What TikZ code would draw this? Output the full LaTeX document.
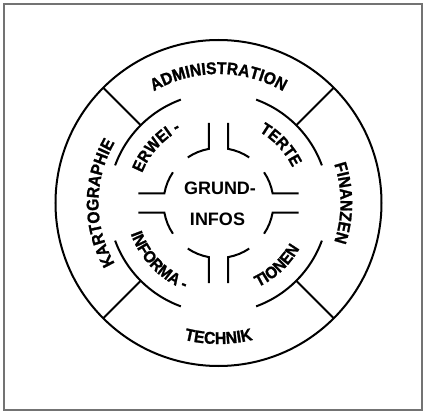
\documentclass[tikz,border=0pt]{standalone}
\usepackage{fontspec}
\setmainfont{Liberation Sans}
\newfontfamily\labfam{Liberation Sans Bold}[FakeStretch=0.92, FakeBold=1.2]
\usetikzlibrary{decorations.text}
\newcommand\labfont{\labfam\fontsize{17}{18}\selectfont}
\newcommand\midfont{\labfam\fontsize{16.5}{18}\selectfont}
\tikzset{
  ln/.style={line width=2pt, black},
  ringtext/.style={decorate, decoration={text along path, text align=center, text={#1}}},
  centertext/.style={font=\fontsize{18}{18}\selectfont\bfseries, inner sep=0pt}
}
\begin{document}
\begin{tikzpicture}[x=1pt,y=1pt]
\useasboundingbox (-218.5,-209) rectangle (204.5,203);
% frame
\draw[line width=1.5pt, black!55] (-214.5,-207) rectangle (203.5,199);
% outer circle
\draw[ln] (0,0) circle[radius=163];
% spokes
\foreach \a in {45,135,225,315} \draw[ln] (\a:110) -- (\a:163);
% middle arcs
\foreach \a in {0,90,180,270} \draw[ln] (\a+20:110) arc[start angle=\a+20, end angle=\a+70, radius=110];
% inner channel
\foreach \a in {0,90,180,270} {
  \begin{scope}[rotate=\a]
    \draw[ln] (80,9.7) -- (54.1,9.7) arc[start angle=10.2, end angle=34, radius=55];
    \draw[ln] (80,-9.7) -- (54.1,-9.7) arc[start angle=-10.2, end angle=-34, radius=55];
  \end{scope}
}
% outer ring labels
\path[ringtext={|\labfont|ADMINISTRATION}] (150:129) arc[start angle=150, end angle=30, radius=129];
\path[ringtext={|\labfont|FINANZEN}] (40:122) arc[start angle=40, end angle=-40, radius=122];
\path[ringtext={|\labfont|TECHNIK}] (230:141) arc[start angle=230, end angle=310, radius=141];
\path[ringtext={|\labfont|KARTOGRAPHIE}] (220:120) arc[start angle=220, end angle=140, radius=120];
% middle ring labels
\path[ringtext={|\midfont|ERWEI -}] (178:82) arc[start angle=178, end angle=98, radius=82];
\path[ringtext={|\midfont|TERTE}] (83:82) arc[start angle=83, end angle=3, radius=82];
\path[ringtext={|\midfont|INFORMA -}] (184:93) arc[start angle=184, end angle=264, radius=93];
\path[ringtext={|\midfont|TIONEN}] (273:93) arc[start angle=273, end angle=353, radius=93];
% center
\node[centertext] (grund) at (1.5,15) {GRUND-};
\node[centertext] (infos) at (-1,-16) {INFOS};
\end{tikzpicture}
\end{document}
